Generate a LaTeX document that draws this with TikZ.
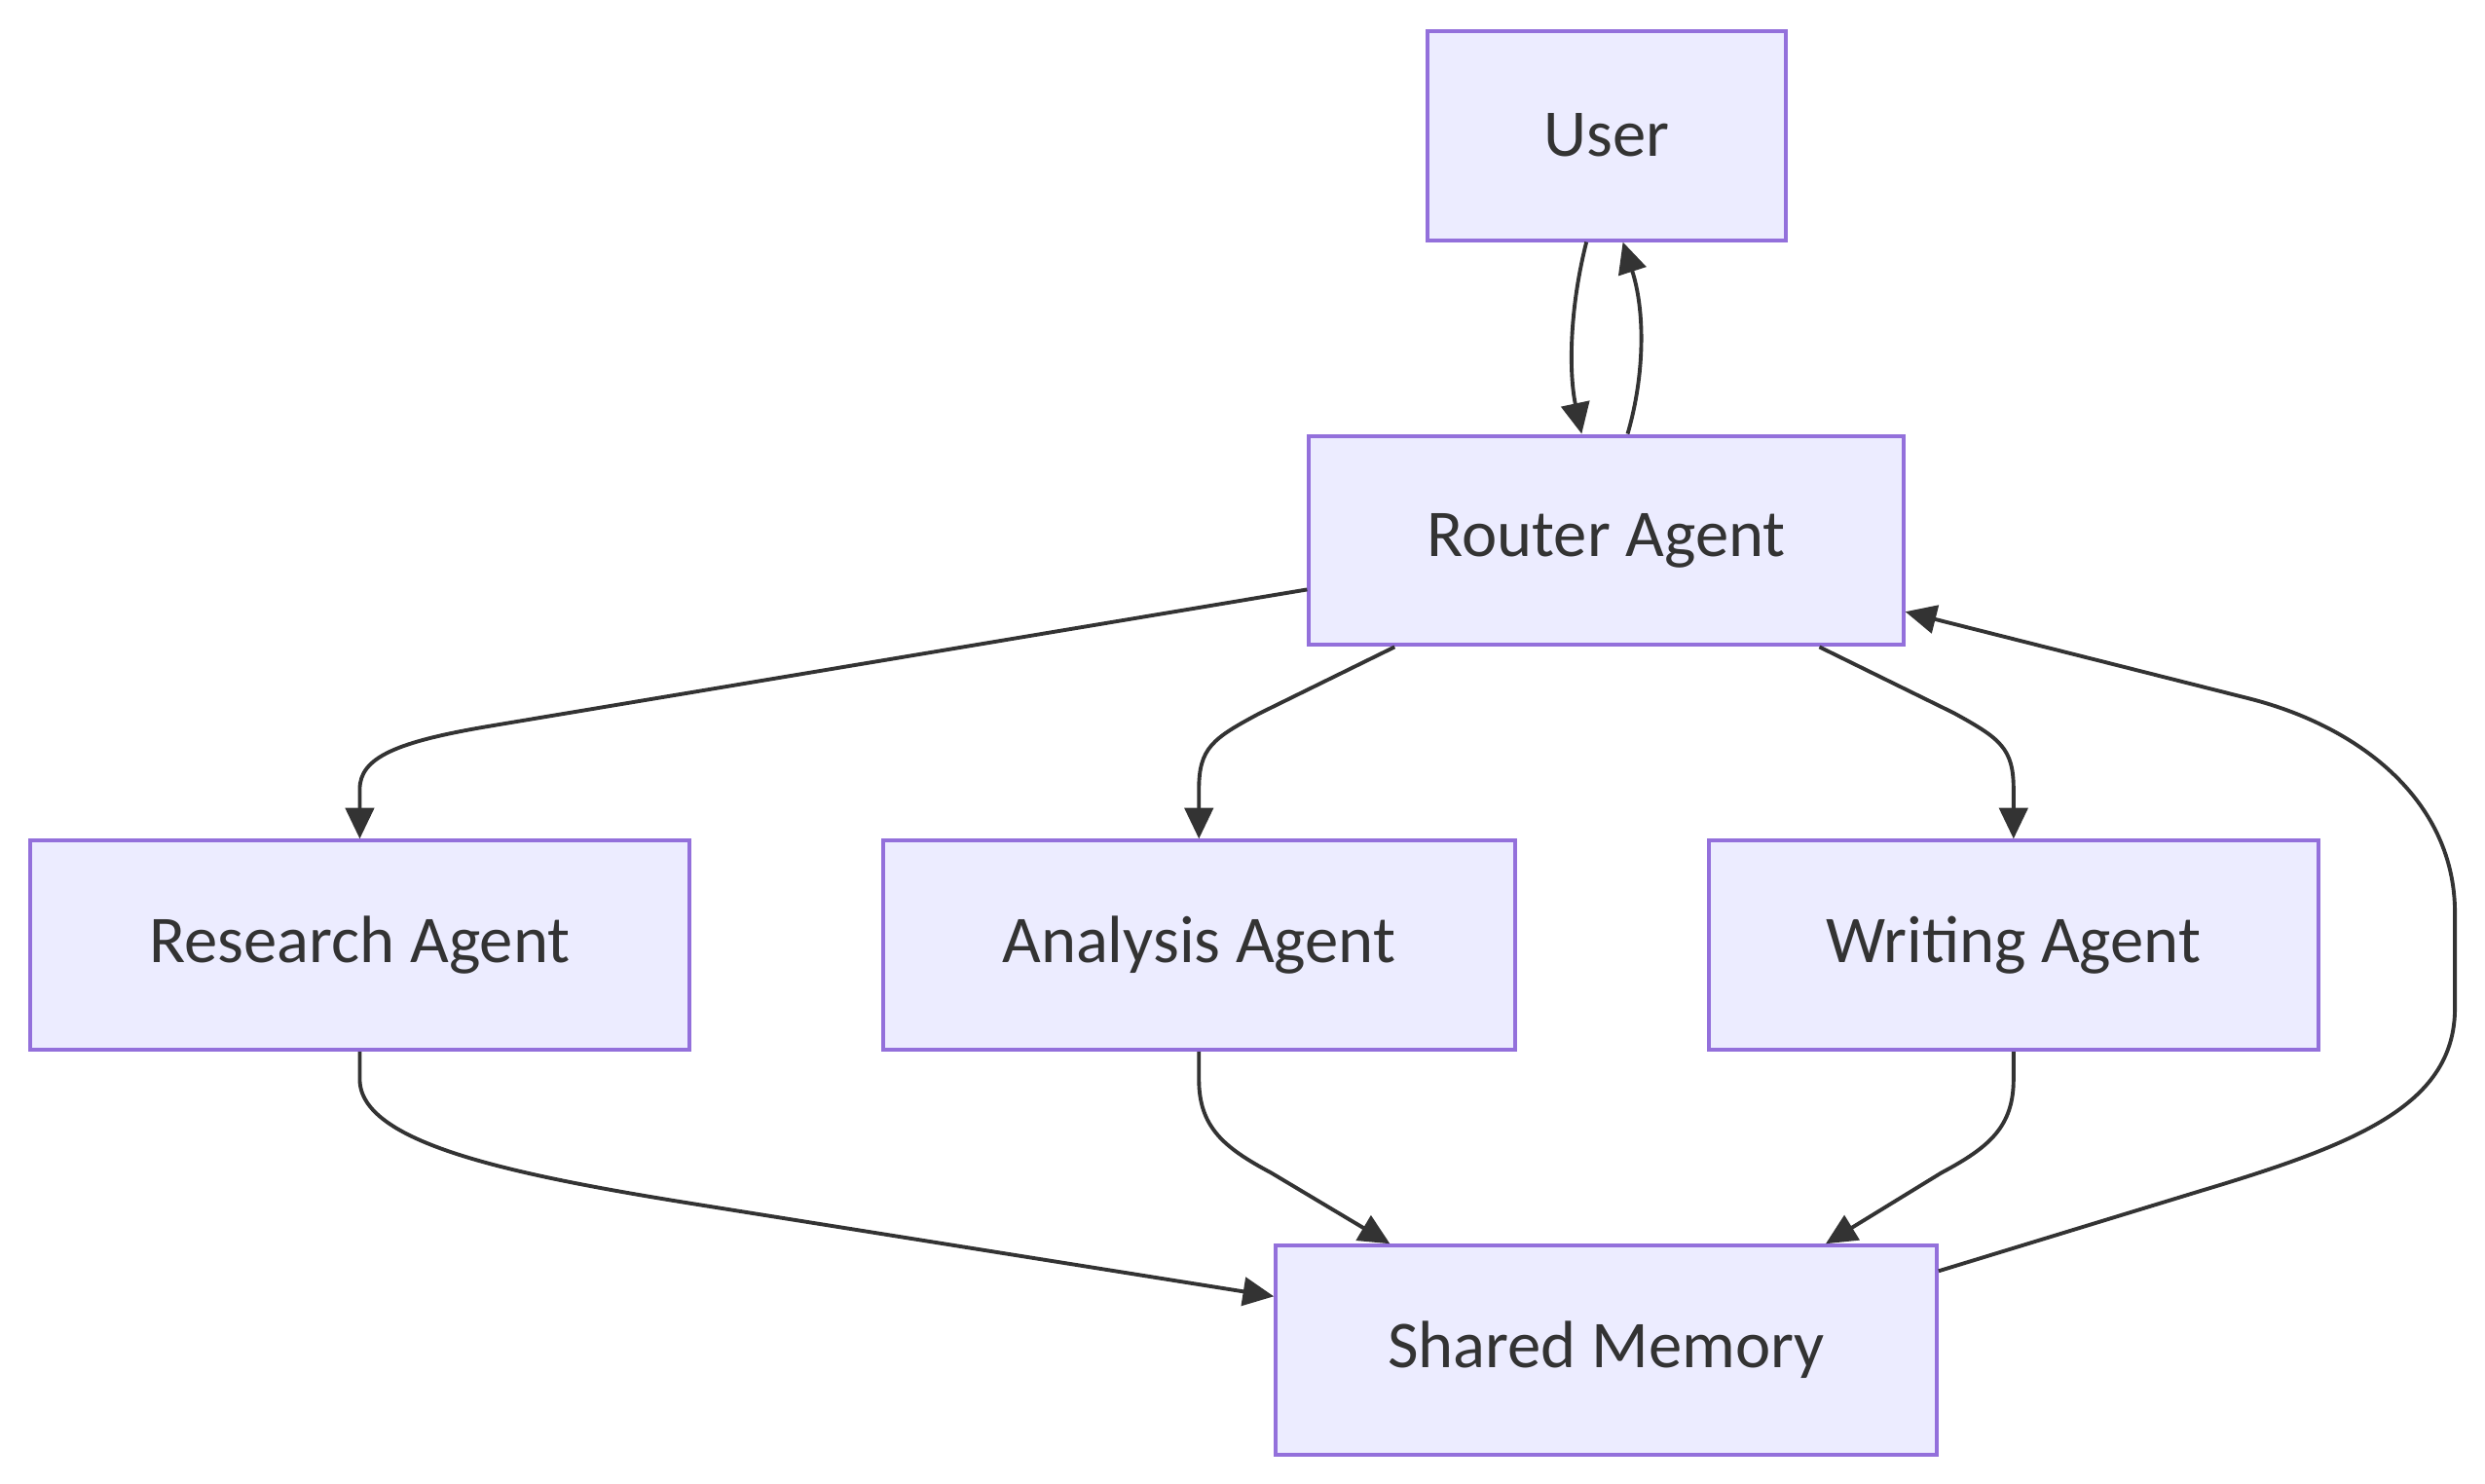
\documentclass[tikz,border=0pt]{standalone}
\usepackage{fontspec}
\setmainfont{Carlito}
\usepackage{tikz}
\usetikzlibrary{arrows, arrows.meta, positioning, calc}
\definecolor{boxfill}{HTML}{ECECFF}
\definecolor{boxline}{HTML}{9370DB}
\definecolor{ink}{HTML}{333333}
\tikzset{
  agent/.style={rectangle, draw=boxline, fill=boxfill, line width=0.7pt, inner sep=0pt,
    minimum height=1.32cm, text=ink, font=\fontsize{12pt}{14pt}\selectfont},
  flow/.style={draw=ink, line width=0.68pt, -{Triangle[length=1.95mm, width=1.8mm]}}
}

\begin{document}
\begin{tikzpicture}
  \useasboundingbox (0,0) rectangle (15.68,9.36);

  \node (user) [agent, minimum width = 2.26cm] at (10.14,8.505) {User};
  \node (router) [agent, minimum width = 3.75cm] at (10.135,5.95) {Router Agent};

  \node (research) [agent, minimum width = 4.16cm] at (2.27,3.395) {Research Agent};
  \node (analysis) [agent, minimum width = 3.99cm] at (7.565,3.395) {Analysis Agent};
  \node (writing) [agent, minimum width = 3.85cm] at (12.705,3.395) {Writing Agent};

  \node (memory) [agent, minimum width = 4.17cm] at (10.135,0.84) {Shared Memory};

  % user <-> router
  \draw [flow] ([xshift=-1.3mm]user.south) .. controls (9.9,7.4) and (9.9,7.0) .. ([xshift=-1.55mm]router.north);
  \draw [flow] ([xshift=1.35mm]router.north) .. controls (10.38,7.0) and (10.38,7.4) .. ([xshift=1mm]user.south);

  % router to the agents
  \draw [flow] ([yshift=-3.1mm]router.west) -- (3.1,4.78) .. controls (2.5,4.68) and (2.27,4.58) .. (2.27,4.38) -- (research.north);
  \draw [flow] ([xshift=-13.35mm]router.south) -- (7.95,4.86) .. controls (7.65,4.7) and (7.565,4.64) .. (7.565,4.38) -- (analysis.north);
  \draw [flow] ([xshift=13.45mm]router.south) -- (12.33,4.86) .. controls (12.62,4.7) and (12.705,4.64) .. (12.705,4.38) -- (writing.north);

  % agents to memory
  \draw [flow] (research.south) -- (2.27,2.55) .. controls (2.27,2.15) and (3.21,1.95) .. (4.4,1.76) -- ([yshift=3.4mm]memory.west);
  \draw [flow] (analysis.south) -- (7.565,2.55) .. controls (7.565,2.25) and (7.72,2.12) .. (8.02,1.96) -- ([xshift=-13.65mm]memory.north);
  \draw [flow] (writing.south) -- (12.705,2.55) .. controls (12.705,2.25) and (12.55,2.12) .. (12.25,1.96) -- ([xshift=13.85mm]memory.north);

  % memory back to router
  \draw [flow] ([yshift=5mm]memory.east) -- (13.9,1.85) .. controls (14.9,2.15) and (15.49,2.4) .. (15.49,3.0)
    -- (15.49,3.6) .. controls (15.49,4.3) and (14.9,4.77) .. (14.2,4.95) -- ([yshift=-4.5mm]router.east);
\end{tikzpicture}
\end{document}
